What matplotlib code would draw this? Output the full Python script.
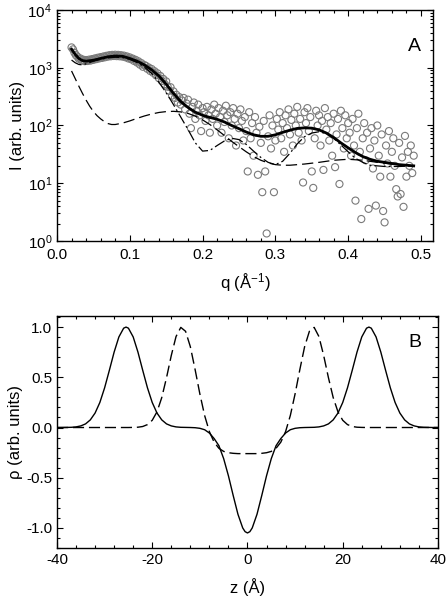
import matplotlib
matplotlib.use("Agg")
import matplotlib.pyplot as plt
import numpy as np
from matplotlib.ticker import MultipleLocator, LogLocator, NullFormatter, FormatStrFormatter

plt.rcParams["font.family"] = ["Liberation Sans", "DejaVu Sans"]
plt.rcParams["mathtext.fontset"] = "custom"
plt.rcParams["mathtext.rm"] = "Liberation Sans"
plt.rcParams["mathtext.it"] = "Liberation Sans"
plt.rcParams["axes.unicode_minus"] = False

# ---- panel A: measured intensity (open circles) ----
q_data = [
    0.020, 0.022, 0.024, 0.026, 0.028, 0.030, 0.032, 0.034, 0.036, 0.038,
    0.040, 0.042, 0.044, 0.046, 0.048, 0.050, 0.052, 0.054, 0.056, 0.058,
    0.060, 0.062, 0.064, 0.066, 0.068, 0.070, 0.072, 0.074, 0.076, 0.078,
    0.080, 0.082, 0.084, 0.086, 0.088, 0.090, 0.092, 0.094, 0.096, 0.098,
    0.100, 0.102, 0.104, 0.106, 0.108, 0.110, 0.112, 0.114, 0.116, 0.118,
    0.120, 0.122, 0.124, 0.126, 0.128, 0.130, 0.132, 0.134, 0.136, 0.138,
    0.140, 0.142, 0.144, 0.146, 0.148, 0.150, 0.152, 0.154, 0.156, 0.158,
    0.160, 0.162, 0.164, 0.166, 0.168, 0.170, 0.172, 0.174, 0.176, 0.178,
    0.180, 0.182, 0.184, 0.186, 0.188, 0.190, 0.192, 0.194, 0.196, 0.198,
    0.200, 0.202, 0.204, 0.206, 0.208, 0.210, 0.212, 0.214, 0.216, 0.218,
    0.220, 0.222, 0.224, 0.226, 0.228, 0.230, 0.232, 0.234, 0.236, 0.238,
    0.240, 0.242, 0.244, 0.246, 0.248, 0.250, 0.252, 0.254, 0.256, 0.258,
    0.260, 0.262, 0.264, 0.266, 0.268, 0.270, 0.272, 0.274, 0.276, 0.278,
    0.280, 0.282, 0.284, 0.286, 0.288, 0.290, 0.292, 0.294, 0.296, 0.298,
    0.300, 0.302, 0.304, 0.306, 0.308, 0.310, 0.312, 0.314, 0.316, 0.318,
    0.320, 0.322, 0.324, 0.326, 0.328, 0.330, 0.332, 0.334, 0.336, 0.338,
    0.340, 0.342, 0.344, 0.346, 0.348, 0.350, 0.352, 0.354, 0.356, 0.358,
    0.360, 0.362, 0.364, 0.366, 0.368, 0.370, 0.372, 0.374, 0.376, 0.378,
    0.380, 0.382, 0.384, 0.386, 0.388, 0.390, 0.392, 0.394, 0.396, 0.398,
    0.400, 0.402, 0.404, 0.406, 0.408, 0.410, 0.412, 0.414, 0.416, 0.418,
    0.420, 0.422, 0.424, 0.426, 0.428, 0.430, 0.432, 0.434, 0.436, 0.438,
    0.440, 0.442, 0.444, 0.446, 0.448, 0.450, 0.452, 0.454, 0.456, 0.458,
    0.460, 0.462, 0.464, 0.466, 0.468, 0.470, 0.472, 0.474, 0.476, 0.478,
    0.480, 0.482, 0.484, 0.486, 0.488, 0.490,
]
I_data = [
    2250, 2080, 1820, 1650, 1560, 1430, 1450, 1340, 1380, 1300,
    1360, 1310, 1380, 1330, 1410, 1370, 1450, 1410, 1490, 1450,
    1530, 1480, 1570, 1520, 1610, 1560, 1650, 1580, 1670, 1600,
    1680, 1590, 1670, 1580, 1650, 1560, 1620, 1520, 1570, 1450,
    1510, 1400, 1440, 1310, 1370, 1230, 1290, 1130, 1200, 1040,
    1110, 1080, 960, 1010, 880, 950, 820, 870, 740, 800,
    660, 720, 590, 640, 520, 580, 470, 400, 460, 330,
    390, 300, 340, 250, 310, 230, 270, 300, 190, 240,
    280, 160, 90, 210, 250, 130, 180, 230, 150, 80,
    200, 170, 120, 210, 150, 75, 190, 130, 230, 160,
    100, 200, 140, 75, 180, 115, 220, 150, 60, 170,
    100, 200, 130, 45, 160, 90, 190, 120, 55, 140,
    80, 16, 170, 60, 110, 30, 140, 75, 14, 95,
    50, 7, 120, 16, 1.35, 65, 150, 40, 100, 7,
    55, 130, 85, 170, 60, 110, 35, 150, 90, 190,
    70, 125, 45, 160, 100, 210, 75, 130, 55, 10.3,
    170, 110, 200, 80, 140, 16, 8.3, 60, 180, 100,
    150, 45, 120, 17, 200, 85, 140, 55, 110, 30,
    160, 19, 70, 130, 9.7, 180, 90, 40, 150, 60,
    110, 75, 30, 130, 45, 5.0, 90, 160, 35, 2.4,
    60, 110, 25, 75, 3.6, 40, 90, 18, 55, 4.1,
    100, 30, 13, 70, 3.3, 2.1, 45, 22, 80, 13,
    35, 60, 20, 7.9, 5.9, 50, 6.5, 28, 3.9, 66,
    13, 35, 20, 45, 15, 30,
]

# total fit (thick solid)
q_fit = [0.020, 0.025, 0.030, 0.035, 0.040, 0.050, 0.060, 0.070, 0.080, 0.090,
         0.100, 0.110, 0.120, 0.130, 0.140, 0.150, 0.160, 0.170, 0.180, 0.190,
         0.200, 0.210, 0.220, 0.230, 0.240, 0.250, 0.260, 0.270, 0.280, 0.290,
         0.300, 0.310, 0.320, 0.330, 0.340, 0.350, 0.360, 0.370, 0.380, 0.390,
         0.400, 0.410, 0.420, 0.430, 0.440, 0.450, 0.460, 0.470, 0.480, 0.490]
I_fit = [2100, 1700, 1450, 1330, 1300, 1350, 1450, 1550, 1600, 1580,
         1450, 1300, 1120, 920, 720, 520, 360, 260, 205, 170,
         150, 138, 128, 115, 100, 88, 77, 69, 65, 65,
         69, 76, 83, 89, 91, 90, 84, 74, 62, 50,
         41, 34, 29, 26, 24, 23, 22, 21, 20.5, 20]

# component 1 (dash-dot)
q_c1 = [0.020, 0.025, 0.030, 0.035, 0.040, 0.050, 0.060, 0.070, 0.080, 0.090,
        0.100, 0.110, 0.120, 0.130, 0.140, 0.150, 0.160, 0.170, 0.180, 0.190,
        0.200, 0.210, 0.220, 0.230, 0.240, 0.250, 0.260, 0.270, 0.280, 0.290,
        0.300, 0.310, 0.320, 0.330, 0.340, 0.350, 0.360, 0.370, 0.380, 0.390,
        0.400, 0.410, 0.420, 0.430, 0.450, 0.470, 0.490]
I_c1 = [1360, 1220, 1140, 1120, 1170, 1300, 1400, 1480, 1520, 1500,
        1400, 1230, 1030, 800, 560, 370, 230, 140, 85, 50,
        36, 37, 45, 54, 60, 57, 47, 36, 28, 23,
        21, 24, 33, 48, 64, 74, 78, 72, 60, 46,
        35, 27, 23, 20.5, 19.5, 19.5, 20]

# component 2 (dashed)
q_c2 = [0.020, 0.025, 0.030, 0.035, 0.040, 0.045, 0.050, 0.055, 0.060, 0.065,
        0.070, 0.075, 0.080, 0.090, 0.100, 0.110, 0.120, 0.130, 0.140, 0.150,
        0.160, 0.170, 0.180, 0.190, 0.200, 0.210, 0.220, 0.230, 0.240, 0.250,
        0.260, 0.270, 0.280, 0.290, 0.300, 0.310, 0.320, 0.340, 0.360, 0.380,
        0.400, 0.420, 0.440, 0.460, 0.490]
I_c2 = [880, 650, 480, 360, 275, 215, 175, 148, 130, 117,
        108, 104, 104, 110, 120, 133, 146, 158, 168, 174,
        176, 172, 162, 145, 125, 104, 84, 67, 53, 43,
        35, 29, 25, 22.5, 21, 20.5, 20.5, 21.5, 23, 25,
        26, 25, 23, 21.5, 20]

# ---- panel B: electron density profiles ----
z = [-40, -39, -38, -37, -36, -35, -34, -33, -32, -31,
     -30, -29, -28, -27, -26, -25.5, -25, -24, -23, -22, -21,
     -20, -19, -18, -17, -16, -15, -14, -13, -12, -11,
     -10, -9, -8, -7, -6, -5, -4, -3, -2, -1, -0.5,
     0,
     0.5, 1, 2, 3, 4, 5, 6, 7, 8, 9, 10,
     11, 12, 13, 14, 15, 16, 17, 18, 19, 20,
     21, 22, 23, 24, 25, 25.5, 26, 27, 28, 29, 30,
     31, 32, 33, 34, 35, 36, 37, 38, 39, 40]
rho_solid = [
    0.0, 0.0, 0.001, 0.002, 0.006, 0.016, 0.036, 0.076, 0.144, 0.249,
    0.395, 0.570, 0.751, 0.902, 0.989, 1.0, 0.989, 0.902, 0.751, 0.570, 0.395,
    0.249, 0.144, 0.076, 0.036, 0.016, 0.006, 0.002, 0.001, 0.0, -0.002,
    -0.008, -0.022, -0.055, -0.110, -0.181, -0.310, -0.481, -0.677, -0.864, -1.000, -1.037,
    -1.050,
    -1.037, -1.000, -0.864, -0.677, -0.481, -0.310, -0.181, -0.110, -0.055, -0.022, -0.008,
    -0.002, 0.0, 0.001, 0.002, 0.006, 0.016, 0.036, 0.076, 0.144, 0.249,
    0.395, 0.570, 0.751, 0.902, 0.989, 1.0, 0.989, 0.902, 0.751, 0.570, 0.395,
    0.249, 0.144, 0.076, 0.036, 0.016, 0.006, 0.002, 0.001, 0.0, 0.0,
]
rho_dashed = [
    0.0, 0.0, 0.0, 0.0, 0.0, 0.0, 0.0, 0.0, 0.0, 0.0,
    0.0, 0.0, 0.0, 0.0, 0.0, 0.0, 0.0, 0.001, 0.003, 0.010, 0.029,
    0.072, 0.156, 0.298, 0.496, 0.717, 0.906, 0.997, 0.958, 0.805, 0.578,
    0.335, 0.120, -0.041, -0.146, -0.207, -0.238, -0.251, -0.257, -0.260, -0.260, -0.260,
    -0.260,
    -0.260, -0.260, -0.260, -0.257, -0.251, -0.238, -0.207, -0.146, -0.041, 0.120, 0.335,
    0.578, 0.805, 0.958, 0.997, 0.906, 0.717, 0.496, 0.298, 0.156, 0.072,
    0.029, 0.010, 0.003, 0.001, 0.0, 0.0, 0.0, 0.0, 0.0, 0.0, 0.0,
    0.0, 0.0, 0.0, 0.0, 0.0, 0.0, 0.0, 0.0, 0.0, 0.0,
]

fig = plt.figure(figsize=(4.48, 5.99), dpi=100)
axA = fig.add_axes([0.1272, 0.5977, 0.8393, 0.3856])
axB = fig.add_axes([0.1272, 0.0851, 0.8504, 0.3873])

axA.scatter(q_data, I_data, s=26, facecolors="none", edgecolors="#7a7a7a",
            linewidths=0.8, zorder=2)
axA.plot(q_c2, I_c2, color="black", lw=0.9, dashes=(9, 4), zorder=3)
axA.plot(q_c1, I_c1, color="black", lw=0.9, dashes=(9, 2.5, 1.5, 2.5), zorder=3)
axA.plot(q_fit, I_fit, color="black", lw=2.0, zorder=4)

axA.set_yscale("log")
axA.set_ylim(1, 1e4)
axA.set_xlim(0, 0.5165)
axA.xaxis.set_major_locator(MultipleLocator(0.1))
axA.xaxis.set_minor_locator(MultipleLocator(0.02))
axA.xaxis.set_major_formatter(FormatStrFormatter("%.1f"))
axA.yaxis.set_major_locator(LogLocator(base=10, numticks=10))
axA.yaxis.set_minor_locator(LogLocator(base=10, subs=np.arange(2, 10), numticks=20))
axA.yaxis.set_minor_formatter(NullFormatter())
axA.set_xlabel("q (Å$^{-1}$)", fontsize=12, labelpad=7)
axA.set_ylabel("I (arb. units)", fontsize=12, labelpad=2)
axA.text(0.95, 0.84, "A", transform=axA.transAxes, fontsize=14, ha="center", va="center")

axB.plot(z, rho_solid, color="black", lw=1.0)
axB.plot(z, rho_dashed, color="black", lw=1.0, dashes=(8, 3.5))
axB.set_xlim(-40, 40)
axB.set_ylim(-1.2, 1.11)
axB.xaxis.set_major_locator(MultipleLocator(20))
axB.xaxis.set_minor_locator(MultipleLocator(4))
axB.yaxis.set_major_locator(MultipleLocator(0.5))
axB.yaxis.set_minor_locator(MultipleLocator(0.1))
axB.yaxis.set_major_formatter(FormatStrFormatter("%.1f"))
axB.set_xlabel("z (Å)", fontsize=12, labelpad=8)
axB.set_ylabel("ρ (arb. units)", fontsize=12, labelpad=2)
axB.text(0.94, 0.884, "B", transform=axB.transAxes, fontsize=14, ha="center", va="center")

for ax in (axA, axB):
    ax.tick_params(which="both", direction="in", top=True, right=True, labelsize=11)
    ax.tick_params(which="major", length=4.5, width=0.8)
    ax.tick_params(which="minor", length=2.5, width=0.8)
    for s in ax.spines.values():
        s.set_linewidth(1.0)
axA.tick_params(axis="x", which="major", pad=5)

fig.savefig("out.png", dpi=100)
